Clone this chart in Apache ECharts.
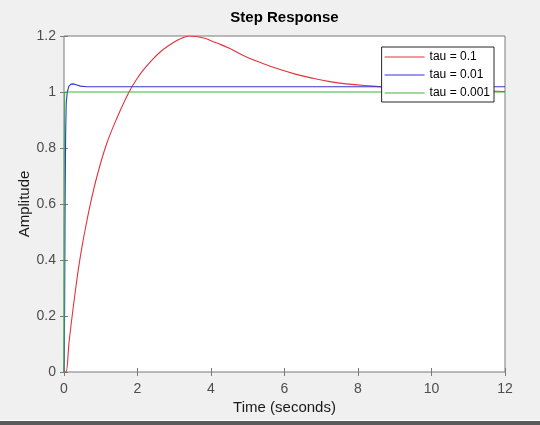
<!DOCTYPE html>
<html>
<head>
<meta charset="utf-8">
<script src="https://cdn.jsdelivr.net/npm/echarts@6/dist/echarts.min.js"></script>
<style>
html,body{margin:0;padding:0;background:#f0f0f0;}
#chart{width:540px;height:425px;}
</style>
</head>
<body>
<div id="chart"></div>
<script>
const titleText = 'Step Response';
const xName = 'Time (seconds)';
const yName = 'Amplitude';
const seriesNames = ['tau = 0.1', 'tau = 0.01', 'tau = 0.001'];

const redPoints = [[0,0],[0.05,0.0],[0.14,0.11],[0.236,0.215],[0.33,0.31],[0.417,0.39],[0.5,0.455],[0.6,0.525],[0.726,0.605],[0.9,0.7],[1.16,0.815],[1.45,0.91],[1.77,1.0],[2.0,1.05],[2.16,1.079],[2.4,1.115],[2.61,1.142],[2.85,1.166],[3.07,1.184],[3.25,1.195],[3.42,1.2],[3.6,1.1985],[3.8,1.193],[3.95,1.186],[4.2,1.173],[4.5,1.156],[4.95,1.126],[5.41,1.102],[5.86,1.081],[6.32,1.063],[6.77,1.049],[7.23,1.037],[7.68,1.029],[8.4,1.021],[9,1.015],[10,1.009],[11,1.005],[12,1.002]];
const bluePoints = [[0,0],[0.01,0.05],[0.02,0.3],[0.03,0.6],[0.045,0.85],[0.06,0.96],[0.09,1.0],[0.13,1.02],[0.19,1.028],[0.25,1.029],[0.33,1.026],[0.45,1.021],[0.62,1.019],[12,1.019]];
const greenPoints = [[0,0],[0.005,0.4],[0.01,0.8],[0.015,0.97],[0.02,1.0],[12,1.0]];

const xMin = 0, xMax = 12, xStep = 2;
const yMin = 0, yMax = 1.2, yStep = 0.2;

const frameColor = '#7a7a7a';
const labelColor = '#4d4d4d';
const font = 'Liberation Sans, Arial, sans-serif';
const lineIcon = 'path://M0,0L40,0L40,1L0,1Z';

const chart = echarts.init(document.getElementById('chart'), null, {renderer: 'canvas'});

function axisBase(show) {
  return {
    axisLine: {show: false},
    axisTick: {show: true, inside: true, length: 4, lineStyle: {color: frameColor, width: 1}},
    splitLine: {show: false},
    axisLabel: {show: show, margin: 10, color: labelColor, fontSize: 14, fontFamily: font}
  };
}

const yAxisMain = axisBase(true);
yAxisMain.axisLabel.margin = 8;

chart.setOption({
  backgroundColor: '#f0f0f0',
  animation: false,
  title: {
    text: titleText,
    left: 284.5,
    top: 10,
    padding: 0,
    textAlign: 'center',
    textStyle: {fontSize: 15, fontWeight: 'bold', color: '#000', fontFamily: font}
  },
  grid: {
    left: 64, top: 36, width: 441, height: 336,
    show: true, backgroundColor: '#ffffff', borderColor: frameColor, borderWidth: 1,
    containLabel: false
  },
  legend: {
    orient: 'vertical',
    right: 46,
    top: 47,
    padding: [4, 4, 3, 3],
    itemWidth: 40,
    itemHeight: 12,
    itemGap: 6,
    backgroundColor: '#ffffff',
    borderColor: '#262626',
    borderWidth: 1,
    borderRadius: 0,
    textStyle: {fontSize: 12, color: '#000', fontFamily: font},
    data: seriesNames.map(function (n) { return {name: n, icon: lineIcon}; })
  },
  xAxis: [
    Object.assign(axisBase(true), {
      type: 'value', min: xMin, max: xMax, interval: xStep, position: 'bottom',
      name: xName, nameLocation: 'middle', nameGap: 28, nameMoveOverlap: false,
      nameTextStyle: {fontSize: 15, color: '#1a1a1a', fontFamily: font}
    }),
    Object.assign(axisBase(false), {
      type: 'value', min: xMin, max: xMax, interval: xStep, position: 'top'
    })
  ],
  yAxis: [
    Object.assign(yAxisMain, {
      type: 'value', min: yMin, max: yMax, interval: yStep, position: 'left',
      name: yName, nameLocation: 'middle', nameGap: 32, nameMoveOverlap: false,
      nameTextStyle: {fontSize: 15, color: '#1a1a1a', fontFamily: font}
    }),
    Object.assign(axisBase(false), {
      type: 'value', min: yMin, max: yMax, interval: yStep, position: 'right'
    })
  ],
  series: [
    {name: seriesNames[0], type: 'line', data: redPoints, showSymbol: false, symbol: 'none', smooth: 0.4,
     lineStyle: {color: '#e3323c', width: 1.1}, itemStyle: {color: '#e3323c'}},
    {name: seriesNames[1], type: 'line', data: bluePoints, showSymbol: false, symbol: 'none',
     lineStyle: {color: '#3535d5', width: 1.1}, itemStyle: {color: '#3535d5'}},
    {name: seriesNames[2], type: 'line', data: greenPoints, showSymbol: false, symbol: 'none',
     lineStyle: {color: '#3cb83c', width: 1.1}, itemStyle: {color: '#3cb83c'}}
  ],
  graphic: [
    {type: 'rect', shape: {x: 0, y: 420, width: 540, height: 1}, style: {fill: '#ffffff'}, silent: true},
    {type: 'rect', shape: {x: 0, y: 421, width: 540, height: 4}, style: {fill: '#5a5a5a'}, silent: true}
  ]
});
</script>
</body>
</html>
